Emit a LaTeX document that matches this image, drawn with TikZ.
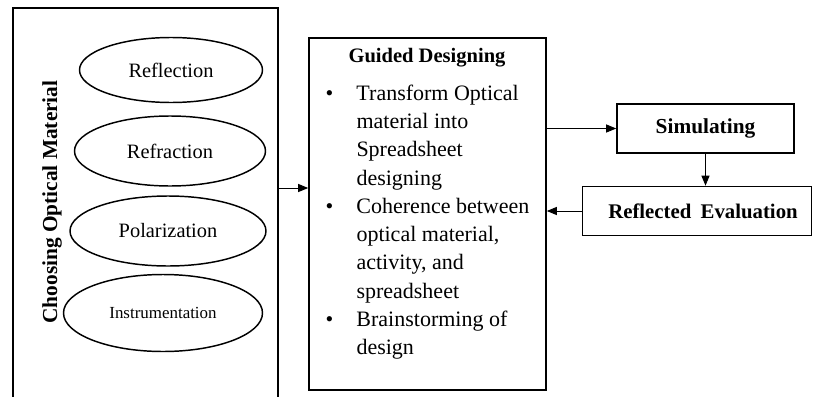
\documentclass[tikz,border=0pt]{standalone}
\usepackage{fontspec}
\setmainfont{Liberation Serif}
\usetikzlibrary{shapes.geometric,arrows.meta}

\tikzset{every picture/.style={line width=0.75pt}}
\tikzset{
  optic/.style={draw, ellipse, line width=1.1pt, inner sep=0pt, font=\fontsize{15.3pt}{18pt}\selectfont},
  stagebox/.style={draw, rectangle, line width=1.2pt, inner sep=0pt},
  flow/.style={-{Triangle[length=7.5pt,width=6pt]}, line width=0.75pt}
}
\newcommand{\listdot}{\makebox[23.25pt][l]{\textbullet}}

\begin{document}
\begin{tikzpicture}[x=0.75pt,y=0.75pt,yscale=-1,xscale=1]
	\useasboundingbox (0,0) rectangle (813,396);

	%Shape: Open Rectangle (choosing material)
	\draw [line width=1.2pt] (13,397) -- (13,8) -- (278,8) -- (278,397) ;
	\coordinate (chooseR) at (278,188) ;
	% Text Node
	\node [rotate=90, font=\bfseries\fontsize{16pt}{18pt}\selectfont] (choosing) at (52,202) {Choosing Optical Material};

	%Shape: Ellipses
	\node [optic, minimum width=137.25pt, minimum height=48.75pt] (reflection) at (171,70) {Reflection};
	\node [optic, minimum width=143.25pt, minimum height=52.5pt] (refraction) at (170,151) {Refraction};
	\node [optic, minimum width=147pt, minimum height=52.5pt] (polarization) at (168,231) {Polarization};
	\node [optic, minimum width=149.25pt, minimum height=57.75pt, font=\fontsize{12.7pt}{15pt}\selectfont] (instrumentation) at (163,313) {Instrumentation};

	%Shape: Rectangle (guided designing)
	\node [stagebox, minimum width=177.75pt, minimum height=264pt] (guided) at (427.5,214) {};
	% Text Node
	\node [font=\bfseries\fontsize{15.4pt}{18pt}\selectfont] (guidedtitle) at (427,58) {Guided Designing};
	% Text Node
	\node [anchor=north west, inner sep=0pt, font=\fontsize{16.5pt}{21.2pt}\selectfont] (guidedlist) at (325,80) {%
	  \begin{tabular}{@{}l@{}l@{}}
	  \listdot & Transform Optical\\
	   & material into\\
	   & Spreadsheet\\
	   & designing\\
	  \listdot & Coherence between\\
	   & optical material,\\
	   & activity, and\\
	   & spreadsheet\\
	  \listdot & Brainstorming of\\
	   & design
	  \end{tabular}};

	%Shape: Rectangle (simulating)
	\node [stagebox, minimum width=132.75pt, minimum height=36.75pt, font=\bfseries\fontsize{16pt}{18pt}\selectfont] (simulating) at (705.5,128.5) {Simulating};
	%Shape: Rectangle (reflected evaluation)
	\node [stagebox, minimum width=171.75pt, minimum height=36.75pt, font=\bfseries\fontsize{15.6pt}{18pt}\selectfont] (evaluation) at (697,211) {\hspace*{9pt}Reflected\hspace{3pt} Evaluation};

	%Straight Lines
	\draw [flow] (chooseR) -- (chooseR -| guided.west) ;
	\draw [flow] (guided.east |- simulating) -- (simulating.west) ;
	\draw [flow] (simulating.south) -- (simulating.south |- evaluation.north) ;
	\draw [flow] (evaluation.west) -- (evaluation.west -| guided.east) ;

\end{tikzpicture}
\end{document}
